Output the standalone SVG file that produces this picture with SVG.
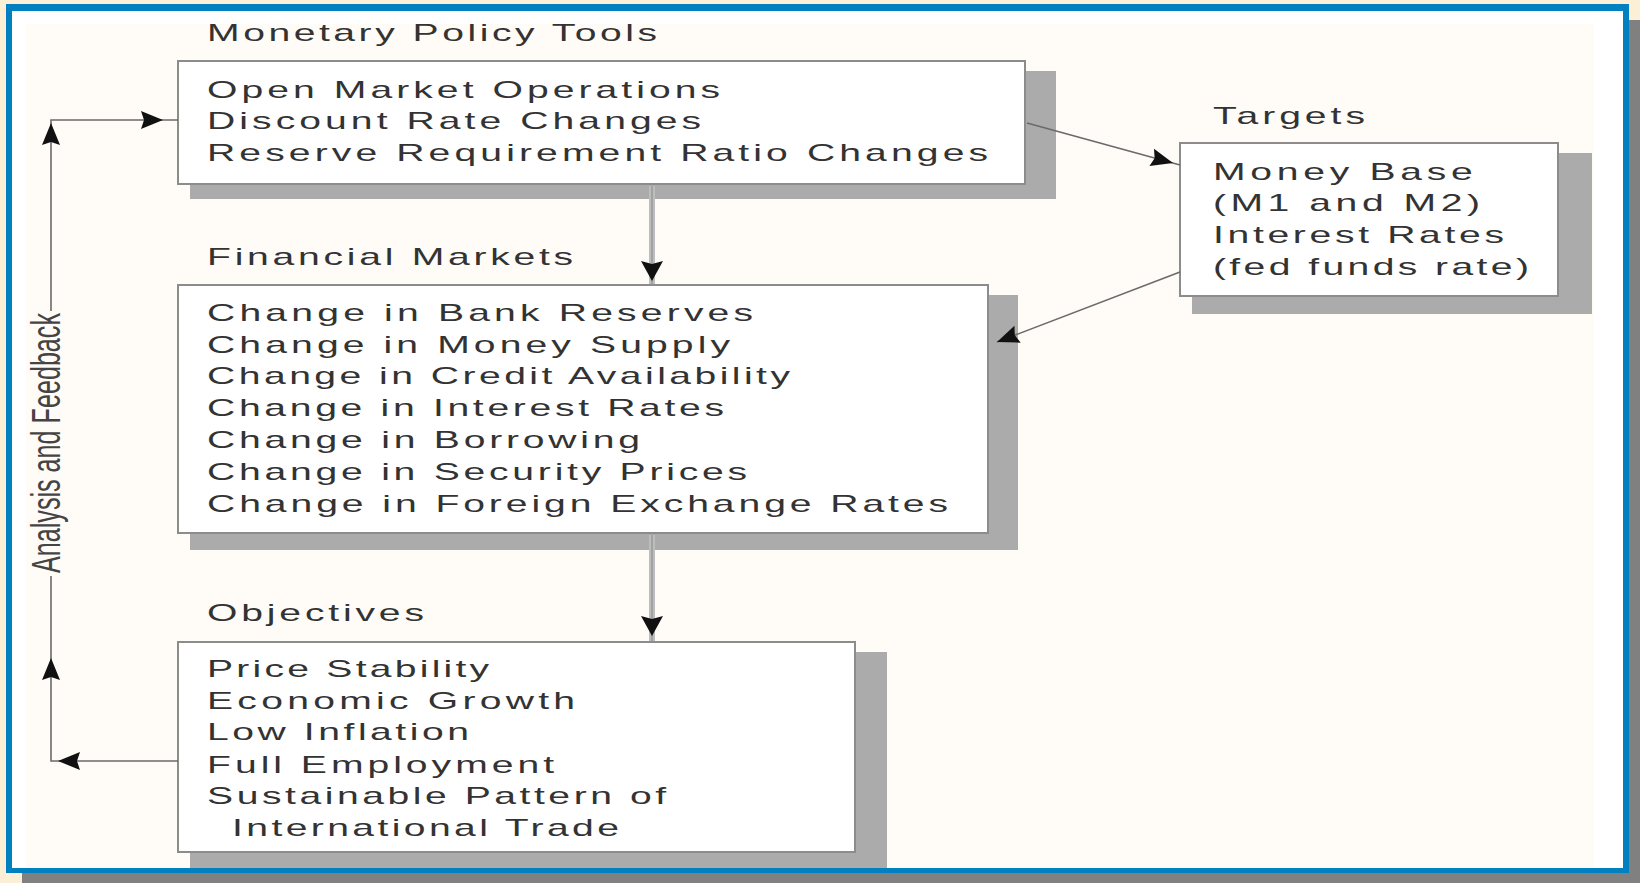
<svg xmlns="http://www.w3.org/2000/svg" xmlns:xlink="http://www.w3.org/1999/xlink" width="1640" height="883" viewBox="0 0 1640 883">
<defs>
<style>
.t{font-family:"Liberation Sans",Arial,sans-serif;font-size:23px;fill:#333;}
.box{fill:#ffffff;stroke:#8c8c8c;stroke-width:2;}
.sh{fill:#ababab;}
.fl{stroke:#bdbdbd;stroke-width:6;fill:none;}
.flc{stroke:#9a9a9a;stroke-width:1.5;fill:none;}
.ln{stroke:#6a6a6a;stroke-width:1.6;fill:none;}
.lbl{font-family:"Liberation Sans",Arial,sans-serif;font-size:40px;fill:#444;}
</style>
<path id="ah" d="M0,0 L-22,-9 L-19,0 L-22,9 Z" fill="#111"/>
<path id="ahv" d="M0,0 L-20,-11 L-17,0 L-20,11 Z" fill="#111"/>
</defs>
<rect x="0" y="0" width="1640" height="883" fill="#fbefd6"/>
<rect x="22" y="20" width="1618" height="863" fill="#808080"/>
<rect x="6" y="4" width="1623" height="869" fill="#0080c0"/>
<rect x="12" y="11" width="1611" height="857" fill="#ffffff"/>
<rect x="26" y="24" width="1568" height="844" fill="#fffcf8"/>

<g id="node-tools">
<rect class="sh" x="190" y="71" width="866" height="128"/>
<rect class="box" x="178" y="61" width="847" height="123"/>
<g transform="scale(1.7,1)">
<text class="t" x="121.8" y="41.5" textLength="264.7" lengthAdjust="spacing">Monetary Policy Tools</text>
<text class="t" x="121.8" y="98" textLength="301.8" lengthAdjust="spacing">Open Market Operations</text>
<text class="t" x="121.8" y="129" textLength="290.6" lengthAdjust="spacing">Discount Rate Changes</text>
<text class="t" x="121.8" y="161" textLength="459.4" lengthAdjust="spacing">Reserve Requirement Ratio Changes</text>
</g>
</g>

<g id="node-targets">
<rect class="sh" x="1192" y="153" width="400" height="161"/>
<rect class="box" x="1180" y="143" width="378" height="153"/>
<g transform="scale(1.7,1)">
<text class="t" x="713.5" y="124" textLength="89.4" lengthAdjust="spacing">Targets</text>
<text class="t" x="713.5" y="180" textLength="152.9" lengthAdjust="spacing">Money Base</text>
<text class="t" x="713.5" y="211" textLength="157.1" lengthAdjust="spacing">(M1 and M2)</text>
<text class="t" x="713.5" y="243" textLength="171.2" lengthAdjust="spacing">Interest Rates</text>
<text class="t" x="713.5" y="275" textLength="185.9" lengthAdjust="spacing">(fed funds rate)</text>
</g>
</g>

<g id="node-markets">
<rect class="sh" x="190" y="295" width="828" height="255"/>
<rect class="box" x="178" y="285" width="810" height="248"/>
<g transform="scale(1.7,1)">
<text class="t" x="121.8" y="265" textLength="215.3" lengthAdjust="spacing">Financial Markets</text>
<text class="t" x="121.8" y="321" textLength="321.2" lengthAdjust="spacing">Change in Bank Reserves</text>
<text class="t" x="121.8" y="353" textLength="307.6" lengthAdjust="spacing">Change in Money Supply</text>
<text class="t" x="121.8" y="384" textLength="342.9" lengthAdjust="spacing">Change in Credit Availability</text>
<text class="t" x="121.8" y="416" textLength="304.1" lengthAdjust="spacing">Change in Interest Rates</text>
<text class="t" x="121.8" y="448" textLength="254.7" lengthAdjust="spacing">Change in Borrowing</text>
<text class="t" x="121.8" y="480" textLength="317.6" lengthAdjust="spacing">Change in Security Prices</text>
<text class="t" x="121.8" y="512" textLength="435.9" lengthAdjust="spacing">Change in Foreign Exchange Rates</text>
</g>
</g>

<g id="node-objectives">
<rect class="sh" x="190" y="652" width="697" height="216"/>
<rect class="box" x="178" y="642" width="677" height="210"/>
<g transform="scale(1.7,1)">
<text class="t" x="121.8" y="621" textLength="127.6" lengthAdjust="spacing">Objectives</text>
<text class="t" x="121.8" y="677" textLength="165.9" lengthAdjust="spacing">Price Stability</text>
<text class="t" x="121.8" y="709" textLength="216.5" lengthAdjust="spacing">Economic Growth</text>
<text class="t" x="121.8" y="740" textLength="154.1" lengthAdjust="spacing">Low Inflation</text>
<text class="t" x="121.8" y="773" textLength="204.1" lengthAdjust="spacing">Full Employment</text>
<text class="t" x="121.8" y="804" textLength="270" lengthAdjust="spacing">Sustainable Pattern of</text>
<text class="t" x="136.5" y="836" textLength="227.6" lengthAdjust="spacing">International Trade</text>
</g>
</g>

<g id="connectors">
<polyline class="ln" points="51,311 51,120 178,120"/>
<polyline class="ln" points="178,761 51,761 51,576"/>
<line class="fl" x1="652" y1="186" x2="652" y2="284"/>
<line class="flc" x1="652" y1="186" x2="652" y2="284"/>
<line class="fl" x1="652" y1="535" x2="652" y2="641"/>
<line class="flc" x1="652" y1="535" x2="652" y2="641"/>
<line class="ln" x1="1027" y1="123" x2="1180" y2="165"/>
<line class="ln" x1="1180" y1="272" x2="997" y2="342"/>
<use xlink:href="#ah" href="#ah" transform="translate(163,120)"/>
<use xlink:href="#ah" href="#ah" transform="translate(51,123) rotate(-90)"/>
<use xlink:href="#ah" href="#ah" transform="translate(51,658) rotate(-90)"/>
<use xlink:href="#ah" href="#ah" transform="translate(58,761) rotate(180)"/>
<use xlink:href="#ahv" href="#ahv" transform="translate(652,281) rotate(90)"/>
<use xlink:href="#ahv" href="#ahv" transform="translate(652,636) rotate(90)"/>
<use xlink:href="#ah" href="#ah" transform="translate(1173,163) rotate(14.7)"/>
<use xlink:href="#ah" href="#ah" transform="translate(997,342) rotate(159.4)"/>
<text class="lbl" transform="translate(60,443) rotate(-90)" text-anchor="middle" textLength="260" lengthAdjust="spacingAndGlyphs">Analysis and Feedback</text>
</g>
</svg>
